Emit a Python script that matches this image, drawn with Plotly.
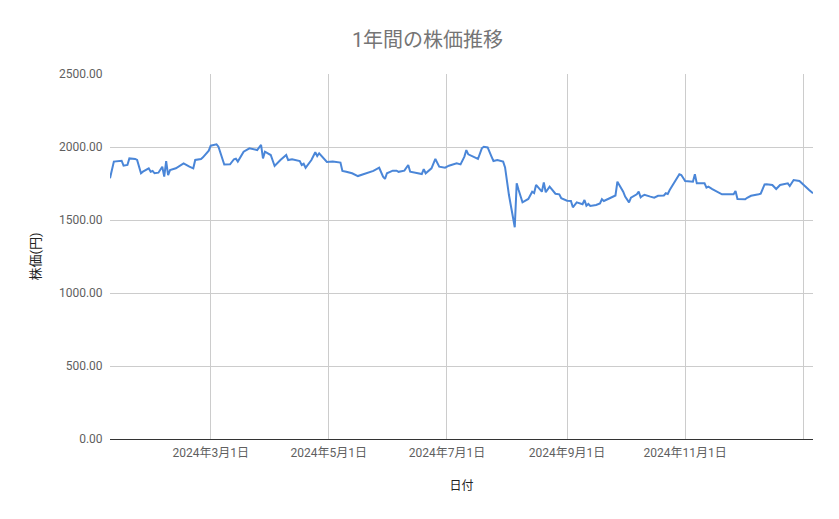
import plotly.graph_objects as go

# 1年間の株価
dates = [
    '2024-01-09', '2024-01-11', '2024-01-15', '2024-01-16', '2024-01-18', '2024-01-19',
    '2024-01-22', '2024-01-23', '2024-01-25', '2024-01-26', '2024-01-29', '2024-01-30',
    '2024-01-31', '2024-02-01', '2024-02-03', '2024-02-04', '2024-02-05', '2024-02-06',
    '2024-02-07', '2024-02-08', '2024-02-09', '2024-02-12', '2024-02-14', '2024-02-16',
    '2024-02-19', '2024-02-21', '2024-02-22', '2024-02-25', '2024-02-26', '2024-02-28',
    '2024-02-29', '2024-03-01', '2024-03-04', '2024-03-05', '2024-03-07', '2024-03-08',
    '2024-03-11', '2024-03-13', '2024-03-14', '2024-03-15', '2024-03-18', '2024-03-21',
    '2024-03-25', '2024-03-27', '2024-03-28', '2024-03-29', '2024-04-01', '2024-04-03',
    '2024-04-06', '2024-04-09', '2024-04-10', '2024-04-12', '2024-04-16', '2024-04-17',
    '2024-04-18', '2024-04-19', '2024-04-22', '2024-04-24', '2024-04-25', '2024-04-26',
    '2024-04-30', '2024-05-03', '2024-05-07', '2024-05-08', '2024-05-10', '2024-05-13',
    '2024-05-16', '2024-05-19', '2024-05-21', '2024-05-23', '2024-05-24', '2024-05-27',
    '2024-05-29', '2024-05-30', '2024-05-31', '2024-06-03', '2024-06-05', '2024-06-06',
    '2024-06-09', '2024-06-11', '2024-06-12', '2024-06-16', '2024-06-18', '2024-06-19',
    '2024-06-20', '2024-06-23', '2024-06-25', '2024-06-27', '2024-06-30', '2024-07-02',
    '2024-07-05', '2024-07-06', '2024-07-08', '2024-07-10', '2024-07-11', '2024-07-12',
    '2024-07-17', '2024-07-19', '2024-07-20', '2024-07-22', '2024-07-24', '2024-07-25',
    '2024-07-27', '2024-07-30', '2024-07-31', '2024-08-02', '2024-08-05', '2024-08-06',
    '2024-08-07', '2024-08-09', '2024-08-12', '2024-08-14', '2024-08-15', '2024-08-16',
    '2024-08-19', '2024-08-20', '2024-08-21', '2024-08-23', '2024-08-26', '2024-08-28',
    '2024-08-29', '2024-09-01', '2024-09-03', '2024-09-04', '2024-09-06', '2024-09-07',
    '2024-09-09', '2024-09-10', '2024-09-11', '2024-09-12', '2024-09-13', '2024-09-16',
    '2024-09-18', '2024-09-19', '2024-09-20', '2024-09-23', '2024-09-25', '2024-09-26',
    '2024-09-27', '2024-09-30', '2024-10-01', '2024-10-02', '2024-10-03', '2024-10-04',
    '2024-10-07', '2024-10-08', '2024-10-09', '2024-10-10', '2024-10-11', '2024-10-14',
    '2024-10-16', '2024-10-18', '2024-10-21', '2024-10-22', '2024-10-23', '2024-10-24',
    '2024-10-25', '2024-10-28', '2024-10-29', '2024-10-30', '2024-11-01', '2024-11-05',
    '2024-11-06', '2024-11-07', '2024-11-11', '2024-11-12', '2024-11-13', '2024-11-15',
    '2024-11-18', '2024-11-20', '2024-11-26', '2024-11-27', '2024-11-28', '2024-12-02',
    '2024-12-03', '2024-12-05', '2024-12-09', '2024-12-10', '2024-12-12', '2024-12-13',
    '2024-12-16', '2024-12-18', '2024-12-20', '2024-12-24', '2024-12-25', '2024-12-27',
    '2024-12-30', '2025-01-01', '2025-01-04', '2025-01-06',
]
prices = [
    1786, 1900, 1906, 1872, 1877, 1922,
    1918, 1911, 1820, 1831, 1854, 1831,
    1836, 1820, 1824, 1842, 1865, 1797,
    1904, 1808, 1842, 1854, 1872, 1888,
    1865, 1854, 1911, 1918, 1929, 1964,
    1975, 2009, 2018, 2002, 1911, 1880,
    1881, 1916, 1920, 1900, 1968, 1991,
    1979, 2014, 1922, 1968, 1945, 1870,
    1911, 1945, 1911, 1916, 1904, 1877,
    1885, 1858, 1911, 1964, 1938, 1957,
    1898, 1900, 1893, 1836, 1831, 1820,
    1801, 1813, 1820, 1830, 1836, 1858,
    1797, 1781, 1820, 1838, 1838, 1830,
    1838, 1877, 1831, 1820, 1815, 1849,
    1820, 1854, 1918, 1865, 1858, 1872,
    1881, 1888, 1881, 1934, 1979, 1950,
    1918, 1991, 2002, 1997, 1934, 1904,
    1911, 1900, 1860, 1671, 1450, 1751,
    1705, 1621, 1644, 1694, 1685, 1740,
    1694, 1758, 1690, 1728, 1680, 1676,
    1649, 1632, 1630, 1587, 1621, 1615,
    1608, 1637, 1598, 1610, 1596, 1603,
    1614, 1642, 1630, 1649, 1664, 1668,
    1762, 1694, 1660, 1640, 1621, 1653,
    1676, 1694, 1655, 1666, 1672, 1660,
    1653, 1666, 1668, 1683, 1678, 1705,
    1728, 1797, 1813, 1808, 1767, 1762,
    1813, 1751, 1751, 1722, 1728, 1712,
    1690, 1676, 1676, 1699, 1644, 1642,
    1652, 1666, 1676, 1680, 1744, 1745,
    1740, 1712, 1740, 1751, 1733, 1774,
    1767, 1740, 1705, 1683,
]

x_tickvals = ['2024-03-01', '2024-05-01', '2024-07-01', '2024-09-01', '2024-11-01', '2025-01-01']
x_ticktext = ['2024年3月1日', '2024年5月1日', '2024年7月1日', '2024年9月1日', '2024年11月1日', '']
y_tickvals = [0, 500, 1000, 1500, 2000, 2500]

font_family = "Roboto, 'Noto Sans CJK JP', sans-serif"

fig = go.Figure()
fig.add_trace(go.Scatter(
    x=dates, y=prices, mode='lines',
    line=dict(color='#4a86d8', width=2),
    showlegend=False,
))

# page has an 8px body margin, so margins are shifted to keep the plot where it belongs
fig.update_layout(
    width=839, height=519,
    paper_bgcolor='white', plot_bgcolor='white',
    margin=dict(l=102, r=34, t=66, b=88),
    font=dict(family=font_family, size=12, color='#5f5f5f'),
    title=dict(text='1年間の株価推移', x=0.5, xanchor='center', y=0.938, yanchor='middle',
               font=dict(size=20, color='#757575')),
)
fig.update_xaxes(
    tickvals=x_tickvals, ticktext=x_ticktext,
    showgrid=True, gridcolor='#cccccc', gridwidth=1,
    showline=True, linecolor='#333333', linewidth=1,
    ticks='outside', ticklen=3, tickcolor='rgba(0,0,0,0)',
    tickfont=dict(size=12, color='#5f5f5f'),
    title=dict(text='日付', standoff=22, font=dict(size=12, color='#222222')),
)
fig.update_yaxes(
    range=[0, 2500], tickvals=y_tickvals, tickformat='.2f',
    showgrid=True, gridcolor='#cccccc', gridwidth=1,
    zeroline=False,
    ticks='outside', ticklen=4, tickcolor='rgba(0,0,0,0)',
    tickfont=dict(size=12, color='#5f5f5f'),
    title=dict(text='株価(円)', standoff=15, font=dict(size=13, color='#222222')),
)

fig.write_html("out.html")
